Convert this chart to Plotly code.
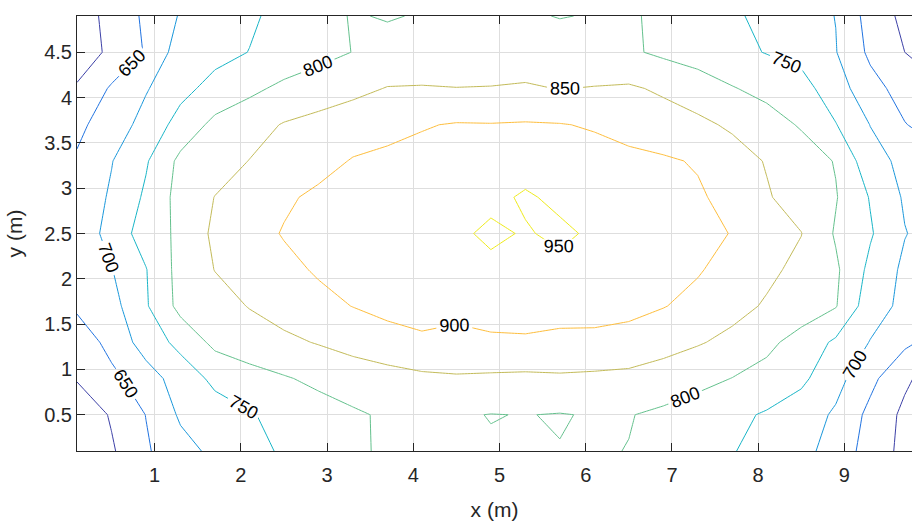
import plotly.graph_objects as go

# Measurement grid (m)
x_m = [0.1, 0.5, 0.9, 1.3, 1.7, 2.1, 2.5, 2.9, 3.3, 3.7, 4.1, 4.5, 4.9,
       5.3, 5.7, 6.1, 6.5, 6.9, 7.3, 7.7, 8.1, 8.5, 8.9, 9.3, 9.7, 9.9]
y_m = [0.1, 0.5, 0.9, 1.3, 1.7, 2.1, 2.5, 2.9, 3.3, 3.7, 4.1, 4.5, 4.9]

# Illuminance rows, one list per y position (bottom to top)
row_y01 = [550, 594, 644, 683, 711, 735, 756, 776, 791, 808, 801, 806, 803,
           806, 801, 804, 799, 782, 768, 752, 736, 718, 676, 632, 585, 568]
row_y05 = [562, 605, 651, 707, 727, 746, 765, 781, 794, 806, 800, 804, 799,
           801, 798, 803, 802, 791, 776, 761, 745, 725, 693, 637, 589, 572]
row_y09 = [604, 636, 680, 720, 762, 781, 796, 810, 822, 832, 840, 845, 842,
           840, 843, 840, 837, 828, 815, 799, 783, 760, 717, 663, 609, 590]
row_y13 = [615, 668, 720, 765, 812, 828, 840, 853, 868, 880, 892, 886, 893,
           894, 890, 890, 884, 868, 854, 838, 812, 780, 742, 698, 660, 645]
row_y17 = [660, 682, 745, 815, 833, 852, 870, 887, 901, 914, 918, 914, 918,
           920, 916, 915, 912, 902, 886, 865, 845, 828, 803, 722, 688, 675]
row_y21 = [658, 698, 748, 818, 851, 870, 888, 905, 913, 924, 930, 942, 935,
           938, 935, 935, 930, 920, 904, 882, 860, 838, 808, 738, 690, 678]
row_y25 = [662, 720, 772, 811, 860, 882, 903, 915, 922, 928, 933, 938, 962,
           945, 962, 940, 932, 925, 915, 898, 876, 851, 795, 755, 702, 690]
row_y29 = [668, 706, 758, 818, 851, 868, 893, 909, 918, 922, 926, 930, 934,
           958, 936, 932, 926, 918, 906, 885, 854, 830, 803, 747, 694, 682]
row_y33 = [655, 698, 745, 812, 830, 851, 866, 884, 903, 910, 913, 918, 920,
           921, 918, 916, 911, 906, 896, 870, 847, 826, 797, 718, 688, 676]
row_y37 = [640, 672, 718, 768, 813, 832, 853, 864, 876, 886, 897, 903, 902,
           904, 902, 896, 884, 871, 860, 843, 822, 795, 752, 699, 652, 640]
row_y41 = [606, 656, 696, 736, 766, 789, 811, 826, 838, 852, 853, 851, 852,
           854, 849, 852, 856, 843, 826, 803, 785, 768, 723, 668, 630, 618]
row_y45 = [570, 611, 654, 725, 735, 751, 767, 784, 801, 815, 820, 820, 822,
           830, 824, 820, 807, 791, 777, 762, 748, 735, 702, 640, 600, 588]
row_y49 = [575, 615, 659, 704, 723, 743, 764, 785, 803, 797, 803, 806, 804,
           806, 798, 803, 804, 793, 776, 757, 738, 719, 699, 630, 588, 575]

lux = [row_y01, row_y05, row_y09, row_y13, row_y17, row_y21, row_y25,
       row_y29, row_y33, row_y37, row_y41, row_y45, row_y49]

# Contour levels and their line colours (parula-like)
levels = [600, 650, 700, 750, 800, 850, 900, 950]
level_colors = ["#3b3fa6", "#1f72e0", "#1896da", "#17b4c6",
                "#63c08c", "#c2ba58", "#fdbd3c", "#eeea18"]

x_ticks = [1, 2, 3, 4, 5, 6, 7, 8, 9]
y_ticks = [0.5, 1, 1.5, 2, 2.5, 3, 3.5, 4, 4.5]
y_tick_text = ["0.5", "1", "1.5", "2", "2.5", "3", "3.5", "4", "4.5"]

n = len(levels) - 1
colorscale = [[i / n, c] for i, c in enumerate(level_colors)]

font_family = "Liberation Sans, Arial, Helvetica, sans-serif"
axis_color = "#262626"
grid_color = "#dedede"

fig = go.Figure(
    go.Contour(
        x=x_m,
        y=y_m,
        z=lux,
        contours=dict(
            start=levels[0],
            end=levels[-1],
            size=levels[1] - levels[0],
            coloring="lines",
            showlabels=True,
            labelfont=dict(size=18, color="black", family=font_family),
        ),
        line=dict(width=1, smoothing=0),
        colorscale=colorscale,
        zauto=False,
        zmin=levels[0],
        zmax=levels[-1],
        showscale=False,
        hoverinfo="x+y+z",
    )
)

fig.update_layout(
    width=912,
    height=521,
    margin=dict(l=77, r=0, t=16, b=70),
    paper_bgcolor="white",
    plot_bgcolor="white",
    font=dict(family=font_family, color=axis_color),
    showlegend=False,
)

fig.update_xaxes(
    range=[0.1, 9.784],
    tickvals=x_ticks,
    ticks="inside",
    ticklen=8,
    tickcolor=axis_color,
    tickfont=dict(size=20, color=axis_color),
    ticklabelstandoff=6,
    showline=True,
    linecolor=axis_color,
    linewidth=1,
    mirror="ticks",
    showgrid=True,
    gridcolor=grid_color,
    gridwidth=1,
    zeroline=False,
    title=dict(text="x (m)", font=dict(size=21, color=axis_color), standoff=18),
)

fig.update_yaxes(
    range=[0.1, 4.9],
    tickvals=y_ticks,
    ticktext=y_tick_text,
    ticks="inside",
    ticklen=8,
    tickcolor=axis_color,
    tickfont=dict(size=20, color=axis_color),
    showline=True,
    linecolor=axis_color,
    linewidth=1,
    showgrid=True,
    gridcolor=grid_color,
    gridwidth=1,
    zeroline=False,
    title=dict(text="y (m)", font=dict(size=21, color=axis_color), standoff=15),
)

fig.write_html("out.html")
